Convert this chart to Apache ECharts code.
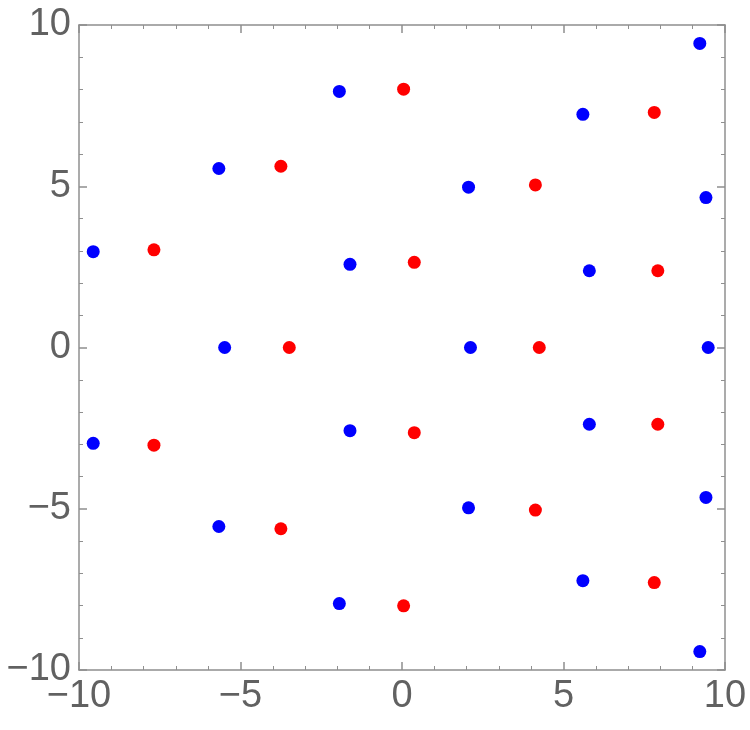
<!DOCTYPE html>
<html>
<head>
<meta charset="utf-8">
<script src="https://cdn.jsdelivr.net/npm/echarts@6/dist/echarts.min.js"></script>
<style>html,body{margin:0;padding:0;background:#fff}#c{width:750px;height:730px}</style>
</head>
<body>
<div id="c"></div>
<script>
const blueX = [-9.56, -9.56, -5.67, -5.67, -5.49, -1.94, -1.94, -1.61, -1.61, 2.06, 2.06, 2.12, 5.60, 5.60, 5.80, 5.80, 9.22, 9.22, 9.41, 9.41, 9.48];
const blueY = [2.97, -2.97, 5.55, -5.55, 0, 7.94, -7.94, 2.58, -2.58, 4.97, -4.97, 0, 7.23, -7.23, 2.38, -2.38, 9.43, -9.43, 4.65, -4.65, 0];
const redX = [-7.68, -7.68, -3.75, -3.75, -3.49, 0.05, 0.05, 0.38, 0.38, 4.13, 4.13, 4.25, 7.81, 7.81, 7.92, 7.92];
const redY = [3.03, -3.03, 5.62, -5.62, 0, 8.01, -8.01, 2.64, -2.64, 5.04, -5.04, 0, 7.29, -7.29, 2.38, -2.38];
const xTicks = [-10, -5, 0, 5, 10];
const yTicks = [-10, -5, 0, 5, 10];

const zip = (xs, ys) => xs.map((x, i) => [x, ys[i]]);
const fmt = v => String(v).replace('-', '\u2212');
const lineStyle = { color: '#8f8f8f', width: 1.5 };
const labelStyle = { fontFamily: 'Liberation Sans', fontSize: 38, color: '#616161' };

function axis(pos, showLabel, ticks) {
  return {
    type: 'value', position: pos, min: -10, max: 10, interval: 5,
    axisLine: { show: true, onZero: false, lineStyle },
    axisTick: { show: true, inside: true, length: 8, lineStyle },
    minorTick: { show: true, splitNumber: 5, length: 4, lineStyle: { color: '#8f8f8f', width: 1 } },
    splitLine: { show: false },
    axisLabel: Object.assign({ show: showLabel, margin: 8, formatter: v => ticks.includes(v) ? fmt(v) : '' }, labelStyle)
  };
}

const chart = echarts.init(document.getElementById('c'));
chart.setOption({
  animation: false,
  grid: { left: 79, right: 25, top: 25, bottom: 60, containLabel: false },
  xAxis: [axis('bottom', true, xTicks), axis('top', false, xTicks)],
  yAxis: [axis('left', true, yTicks), axis('right', false, yTicks)],
  series: [
    { type: 'scatter', xAxisIndex: 0, yAxisIndex: 0, symbolSize: 13, itemStyle: { color: '#0000ff', opacity: 1 }, data: zip(blueX, blueY) },
    { type: 'scatter', xAxisIndex: 0, yAxisIndex: 0, symbolSize: 13, itemStyle: { color: '#ff0000', opacity: 1 }, data: zip(redX, redY) }
  ]
});
</script>
</body>
</html>
